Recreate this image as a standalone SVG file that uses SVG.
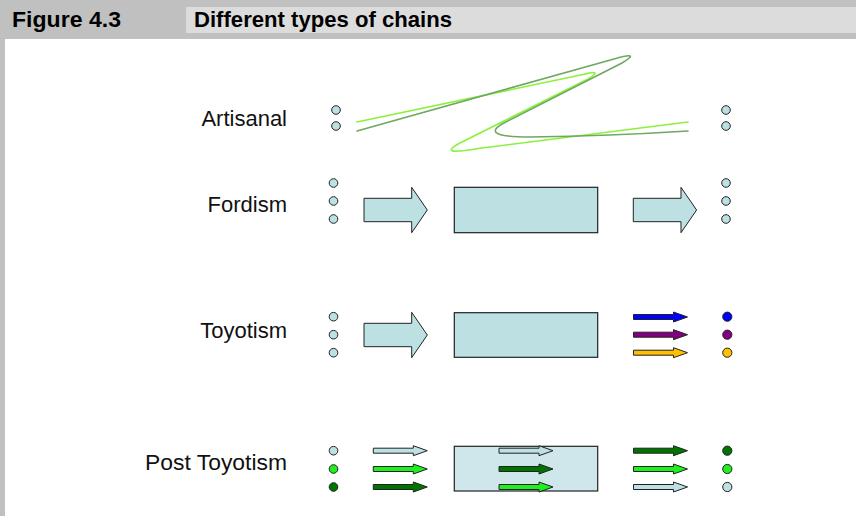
<svg xmlns="http://www.w3.org/2000/svg" xmlns:xlink="http://www.w3.org/1999/xlink" width="856" height="516" viewBox="0 0 856 516">
  <style>
    .title { font-family: "Liberation Sans", Arial, sans-serif; font-weight: bold; font-size: 21.5px; fill: #000; }
    .label { font-family: "Liberation Sans", Arial, sans-serif; font-size: 22px; fill: #111; text-anchor: end; }
    .dot { stroke: #222; stroke-width: 1; }
    .lb { fill: #bde0e3; }
    .box { fill: #bde0e3; stroke: #222; stroke-width: 1.2; }
    .box2 { fill: #cfe7ea; stroke: #222; stroke-width: 1.2; }
    .arr { stroke: #222; stroke-width: 1; }
    .dg { fill: #007400; }
    .bg { fill: #1ef01e; }
    .curve { fill: none; stroke-width: 1.6; stroke-linecap: round; }
  </style>
  <defs>
    <!-- wide block arrow, origin at the tail centre -->
    <path id="bigArrow" d="M0,-11.7 H47.7 V-22.7 L63.3,0 L47.7,22.7 V11.7 H0 Z"/>
    <!-- thin arrow, origin at the tail centre -->
    <path id="smallArrow" d="M0,-2.5 H40 V-5 L54,0 L40,5 V2.5 H0 Z"/>
  </defs>

  <!-- frame and title bar -->
  <rect x="0" y="0" width="856" height="516" fill="#c0c0c0"/>
  <rect x="5" y="39" width="851" height="477" fill="#ffffff"/>
  <rect x="186" y="7" width="670" height="26" fill="#dcdcdc"/>
  <text class="title" x="12" y="27" textLength="109" lengthAdjust="spacingAndGlyphs">Figure 4.3</text>
  <text class="title" x="194" y="27" textLength="258" lengthAdjust="spacingAndGlyphs">Different types of chains</text>

  <!-- Artisanal -->
  <g id="artisanal">
    <text class="label" x="287" y="126">Artisanal</text>
    <circle class="dot lb" cx="336" cy="110" r="4.3"/>
    <circle class="dot lb" cx="336" cy="126" r="4.3"/>
    <circle class="dot lb" cx="726" cy="110" r="4.3"/>
    <circle class="dot lb" cx="726" cy="126" r="4.3"/>
  </g>

  <!-- Fordism -->
  <g id="fordism">
    <text class="label" x="287" y="212">Fordism</text>
    <circle class="dot lb" cx="333.5" cy="183" r="4.3"/>
    <circle class="dot lb" cx="333.5" cy="201" r="4.3"/>
    <circle class="dot lb" cx="333.5" cy="219" r="4.3"/>
    <rect class="box" x="454.3" y="187.3" width="143.4" height="45.4"/>
    <circle class="dot lb" cx="726" cy="183" r="4.3"/>
    <circle class="dot lb" cx="726" cy="201" r="4.3"/>
    <circle class="dot lb" cx="726" cy="219" r="4.3"/>
  </g>

  <!-- Toyotism -->
  <g id="toyotism">
    <text class="label" x="287" y="338">Toyotism</text>
    <circle class="dot lb" cx="333.5" cy="316.7" r="4.3"/>
    <circle class="dot lb" cx="333.5" cy="334.7" r="4.3"/>
    <circle class="dot lb" cx="333.5" cy="352.7" r="4.3"/>
    <rect class="box" x="454.3" y="312.7" width="143.4" height="44.6"/>
    <circle class="dot" cx="727.3" cy="316.7" r="4.6" fill="#0000ff"/>
    <circle class="dot" cx="727.3" cy="334.7" r="4.6" fill="#800080"/>
    <circle class="dot" cx="727.3" cy="352.7" r="4.6" fill="#ffc000"/>
  </g>

  <!-- Post Toyotism -->
  <g id="post-toyotism">
    <text class="label" x="287" y="470" textLength="142" lengthAdjust="spacingAndGlyphs">Post Toyotism</text>
    <circle class="dot lb" cx="333.5" cy="450.7" r="4.3"/>
    <circle class="dot bg" cx="333.5" cy="469" r="4.3"/>
    <circle class="dot dg" cx="333.5" cy="487" r="4.3"/>
    <rect class="box2" x="454.3" y="446.3" width="143.4" height="44.7"/>
    <circle class="dot dg" cx="727.3" cy="450.7" r="4.6"/>
    <circle class="dot bg" cx="727.3" cy="469" r="4.6"/>
    <circle class="dot lb" cx="727.3" cy="487" r="4.6"/>
  </g>

  <!-- flows between the stages -->
  <g id="connectors">
    <!-- artisanal: tangled paths -->
    <path class="curve" stroke="#8af23c" d="M357,122 L583,74.5 Q604,69 588,79 L460,143 Q436,156 478,148.5 L688,122"/>
    <path class="curve" stroke="#6fa85e" d="M357,131 L614,59 Q642,51 622,63 L502,124 Q480,137 530,137 Q610,136 688,131"/>

    <!-- fordism -->
    <use xlink:href="#bigArrow" class="arr lb" x="364" y="210"/>
    <use xlink:href="#bigArrow" class="arr lb" x="633.3" y="210"/>

    <!-- toyotism -->
    <use xlink:href="#bigArrow" class="arr lb" x="364" y="335"/>
    <use xlink:href="#smallArrow" class="arr" fill="#0000ff" x="633.5" y="317"/>
    <use xlink:href="#smallArrow" class="arr" fill="#800080" x="633.5" y="334.7"/>
    <use xlink:href="#smallArrow" class="arr" fill="#ffc000" x="633.5" y="352.7"/>

    <!-- post toyotism -->
    <use xlink:href="#smallArrow" class="arr lb" x="373.3" y="450.7"/>
    <use xlink:href="#smallArrow" class="arr bg" x="373.3" y="469"/>
    <use xlink:href="#smallArrow" class="arr dg" x="373.3" y="487"/>
    <use xlink:href="#smallArrow" class="arr lb" x="499" y="450.7"/>
    <use xlink:href="#smallArrow" class="arr dg" x="499" y="469"/>
    <use xlink:href="#smallArrow" class="arr bg" x="499" y="487"/>
    <use xlink:href="#smallArrow" class="arr dg" x="633.5" y="450.7"/>
    <use xlink:href="#smallArrow" class="arr bg" x="633.5" y="469"/>
    <use xlink:href="#smallArrow" class="arr lb" x="633.5" y="487"/>
  </g>
</svg>
